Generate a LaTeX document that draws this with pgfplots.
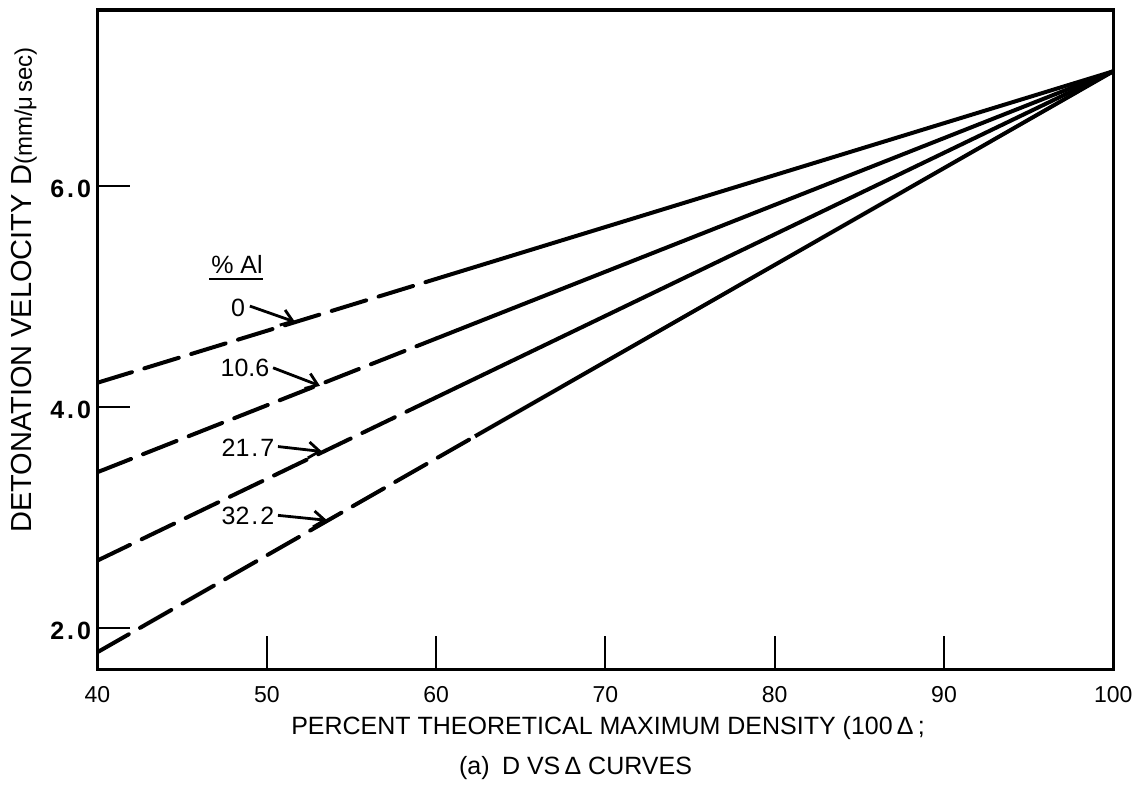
\documentclass[border=0pt]{standalone}
\usepackage{fontspec}
\setmainfont{Liberation Sans}
\usepackage{pgfplots}
\pgfplotsset{compat=1.18}
\usetikzlibrary{arrows.meta}

% Detonation velocity vs. percent theoretical maximum density,
% one line per aluminium content; dashed (extrapolated) at low density.
\pgfplotstableread{
x y
40 4.22
60 5.16
}\alZeroLow
\pgfplotstableread{
x y
60 5.16
100 7.04
}\alZeroHigh
\pgfplotstableread{
x y
40 3.41
60 4.62
}\alTenLow
\pgfplotstableread{
x y
60 4.62
100 7.04
}\alTenHigh
\pgfplotstableread{
x y
40 2.61
60 4.087
}\alTwentyLow
\pgfplotstableread{
x y
60 4.087
100 7.04
}\alTwentyHigh
\pgfplotstableread{
x y
40 1.78
62.3 3.735
}\alThirtyLow
\pgfplotstableread{
x y
62.3 3.735
100 7.04
}\alThirtyHigh

\tikzset{
  curve/.style={line width=2pt, black},
  lowpart/.style={curve, line cap=round, dash pattern=on 18pt off 6.5pt},
  pointer/.style={line width=1.4pt, -{Straight Barb[length=5.5pt,width=8pt,line width=1.4pt]}},
}
\newcommand{\spaced}[2]{\textbf{\fontsize{12.5}{14}\selectfont #1\kern1.5pt.\kern1.5pt#2}}

\begin{document}
\begin{tikzpicture}
\begin{axis}[
  at={(0,0)}, anchor=south west,
  scale only axis, width=507.9pt, height=329.65pt,
  xmin=40, xmax=100, ymin=1.625, ymax=7.595,
  axis line style={line width=1.6pt},
  xtick={40,50,...,100}, ytick={2,4,6},
  xticklabels={40,50,60,70,80,90,100},
  yticklabels={\spaced{2}{0},\spaced{4}{0},\spaced{6}{0}},
  xtick pos=bottom, ytick pos=left,
  tick align=inside,
  major tick length=16.5pt,
  tick style={line width=1pt, black},
  xticklabel style={font=\fontsize{11.5}{13}\selectfont, anchor=base, inner sep=0pt, yshift=-16.4pt},
  yticklabel style={anchor=east, inner sep=0pt, xshift=-3pt, yshift=-1.5pt},
]
\addplot[lowpart] table {\alZeroLow};
\addplot[curve] table {\alZeroHigh};
\addplot[lowpart] table {\alTenLow};
\addplot[curve] table {\alTenHigh};
\addplot[lowpart] table {\alTwentyLow};
\addplot[curve] table {\alTwentyHigh};
\addplot[lowpart] table {\alThirtyLow};
\addplot[curve] table {\alThirtyHigh};

% key: aluminium content of each line
\node[font=\fontsize{12.5}{14}\selectfont] at (axis cs:48.24,5.293) {\% Al};
\draw[line width=1.2pt] (axis cs:46.59,5.158) -- (axis cs:49.78,5.158);

\node[font=\fontsize{12.5}{14}\selectfont] at (axis cs:48.30,4.896) {0};
\draw[pointer] (axis cs:49.0,4.914) -- (axis cs:51.67,4.77);

\node[font=\fontsize{12.5}{14}\selectfont] at (axis cs:48.71,4.355) {10.6};
\draw[pointer] (axis cs:50.37,4.355) -- (axis cs:53.14,4.192);

\node[font=\fontsize{12.5}{14}\selectfont] at (axis cs:48.89,3.633) {21\kern1pt.\kern1pt7};
\draw[pointer] (axis cs:50.66,3.642) -- (axis cs:53.26,3.597);

\node[font=\fontsize{12.5}{14}\selectfont] at (axis cs:48.89,3.010) {32\kern1pt.\kern1pt2};
\draw[pointer] (axis cs:50.66,3.019) -- (axis cs:53.56,2.974);
\end{axis}

% axis titles and caption
\node[anchor=base, font=\fontsize{12.5}{14}\selectfont] at (255.25pt,-32.35pt)
  {PERCENT THEORETICAL MAXIMUM DENSITY (100\,Δ\,;};
\node[anchor=base, font=\fontsize{12.5}{14}\selectfont] at (239pt,-52.35pt)
  {(a)\enspace D VS\,Δ CURVES};
\node[anchor=base, rotate=90, font=\fontsize{14.5}{16}\selectfont] at (-32.75pt,189.65pt)
  {DETONATION VELOCITY D{\fontsize{12}{13}\selectfont(mm/μ\,sec)}};

\pgfresetboundingbox
\useasboundingbox (-48.75pt,-58.35pt) rectangle (520.75pt,334.65pt);
\end{tikzpicture}
\end{document}
